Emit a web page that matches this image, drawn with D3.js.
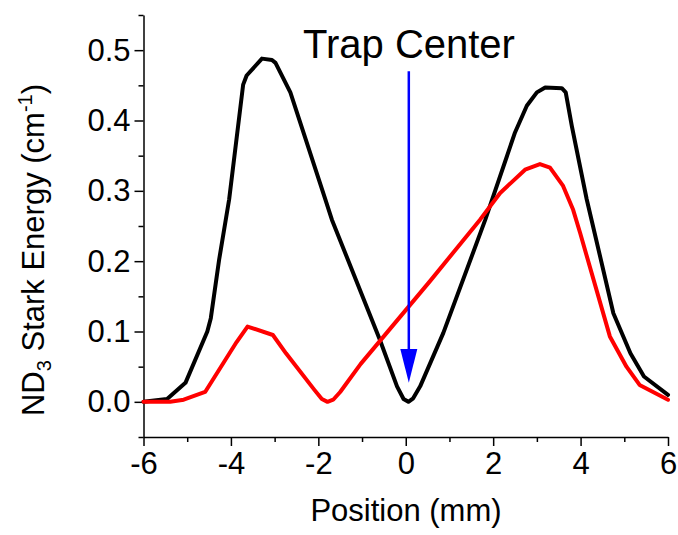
<!DOCTYPE html>
<html><head><meta charset="utf-8">
<script src="https://cdn.jsdelivr.net/npm/d3@7"></script>
<style>body{margin:0;background:#fff} svg{display:block} text{font-family:"Liberation Sans",Arial,sans-serif;fill:#000}</style>
</head><body><svg id="c" width="678" height="535"></svg>
<script>
const blackX = [-6, -5.46, -5.04, -4.54, -4.46, -4.27, -4.04, -3.72, -3.64, -3.29, -3.06, -2.98, -2.64, -1.84, -1.69, -0.59, -0.2, -0.05, 0.06, 0.17, 0.33, 0.86, 1.82, 2.50, 2.77, 3.00, 3.19, 3.57, 3.66, 3.80, 4.14, 4.25, 4.75, 5.14, 5.45, 6.0];
const blackY = [0.0, 0.004, 0.027, 0.100, 0.119, 0.202, 0.288, 0.451, 0.464, 0.488, 0.486, 0.482, 0.440, 0.288, 0.259, 0.088, 0.022, 0.004, 0.0, 0.005, 0.022, 0.098, 0.259, 0.383, 0.421, 0.440, 0.447, 0.446, 0.440, 0.392, 0.288, 0.259, 0.126, 0.069, 0.036, 0.010];
const redX = [-6, -5.39, -5.08, -4.59, -3.87, -3.62, -3.04, -2.74, -2.09, -1.92, -1.79, -1.66, -1.5, -1.03, 0.56, 1.70, 2.16, 2.73, 3.07, 3.30, 3.60, 3.83, 3.99, 4.67, 5.05, 5.35, 6.0];
const redY = [0.0, 0.0, 0.003, 0.014, 0.085, 0.107, 0.095, 0.069, 0.017, 0.004, 0.0, 0.003, 0.014, 0.054, 0.172, 0.259, 0.297, 0.330, 0.338, 0.333, 0.307, 0.273, 0.240, 0.093, 0.050, 0.024, 0.003];
const xTicks = [-6, -4, -2, 0, 2, 4, 6];
const xMinor = [-5, -3, -1, 1, 3, 5];
const yTicks = [0.0, 0.1, 0.2, 0.3, 0.4, 0.5];
const yMinor = [-0.05, 0.05, 0.15, 0.25, 0.35, 0.45, 0.55];
const xTitle = "Position (mm)";
const annotation = "Trap Center";
const arrowX = 0.07, arrowTop = 0.47, arrowTip = 0.027, arrowHeadBase = 0.075;

const svg = d3.select("#c");
const x = d3.scaleLinear().domain([-6, 6]).range([143.5, 668]);
const y = d3.scaleLinear().domain([-0.05, 0.55]).range([437, 15]);

// axes
svg.append("g").attr("transform", "translate(0,437)")
  .call(d3.axisBottom(x).tickValues(xTicks).tickSize(9).tickSizeOuter(0).tickPadding(6).tickFormat(d => String(d)));
svg.append("g").attr("transform", "translate(0,437)")
  .call(d3.axisBottom(x).tickValues(xMinor).tickSize(5).tickSizeOuter(0).tickFormat(""))
  .select(".domain").remove();
svg.append("g").attr("transform", "translate(143.5,0)")
  .call(d3.axisLeft(y).tickValues(yTicks).tickSize(9).tickSizeOuter(0).tickPadding(4).tickFormat(d3.format(".1f")));
svg.append("g").attr("transform", "translate(143.5,0)")
  .call(d3.axisLeft(y).tickValues(yMinor).tickSize(5).tickSizeOuter(0).tickFormat(""))
  .select(".domain").remove();
svg.selectAll(".domain, .tick line").attr("stroke", "#000").attr("stroke-width", 1.5);
svg.selectAll(".tick text").attr("font-size", 31).attr("font-family", '"Liberation Sans", Arial, sans-serif');

// lines
const line = d3.line().x(d => x(d[0])).y(d => y(d[1])).curve(d3.curveLinear);
const blackData = blackX.map((v, i) => [v, blackY[i]]);
const redData = redX.map((v, i) => [v, redY[i]]);
svg.append("path").datum(blackData).attr("d", line).attr("fill", "none").attr("stroke", "#000")
  .attr("stroke-width", 4).attr("stroke-linejoin", "round").attr("stroke-linecap", "round");
svg.append("path").datum(redData).attr("d", line).attr("fill", "none").attr("stroke", "#ff0000")
  .attr("stroke-width", 4).attr("stroke-linejoin", "round").attr("stroke-linecap", "round");

// arrow
const ax = x(arrowX);
svg.append("line").attr("x1", ax).attr("x2", ax).attr("y1", y(arrowTop)).attr("y2", y(arrowHeadBase) + 2)
  .attr("stroke", "#0000ff").attr("stroke-width", 2.5);
svg.append("path").attr("d", `M${ax - 8.5},${y(arrowHeadBase)} L${ax + 8.5},${y(arrowHeadBase)} L${ax},${y(arrowTip)} Z`)
  .attr("fill", "#0000ff");

// annotation
svg.append("text").attr("x", 303).attr("y", 58).attr("font-size", 40).text(annotation);

// x title
svg.append("text").attr("x", 406).attr("y", 521).attr("text-anchor", "middle").attr("font-size", 31).text(xTitle);

// y title
const yt = svg.append("text").attr("transform", "translate(44,250) rotate(-90)").attr("text-anchor", "middle").attr("font-size", 31);
yt.append("tspan").text("ND");
yt.append("tspan").attr("dy", 7).attr("font-size", 20).text("3");
yt.append("tspan").attr("dy", -7).text(" Stark Energy (cm");
yt.append("tspan").attr("dy", -12).attr("font-size", 20).text("-1");
yt.append("tspan").attr("dy", 12).text(")");
</script></body></html>
